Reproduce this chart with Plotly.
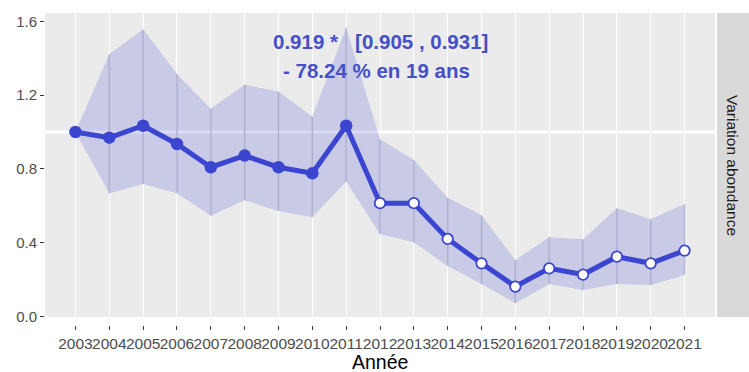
import plotly.graph_objects as go

# Annual abundance index relative to 2003, with confidence band
years = list(range(2003, 2022))
abundance = [1.000, 0.969, 1.034, 0.935, 0.809, 0.872, 0.809, 0.776, 1.034,
             0.614, 0.614, 0.420, 0.288, 0.162, 0.261, 0.227, 0.324, 0.288, 0.357]
upper = [1.000, 1.421, 1.557, 1.314, 1.126, 1.256, 1.219, 1.083, 1.567,
         0.960, 0.848, 0.644, 0.548, 0.306, 0.429, 0.418, 0.586, 0.527, 0.610]
lower = [1.000, 0.668, 0.718, 0.668, 0.546, 0.630, 0.572, 0.538, 0.731,
         0.447, 0.402, 0.274, 0.176, 0.072, 0.176, 0.144, 0.176, 0.171, 0.225]
# filled marker where the yearly difference is significant
significant = [True] * 9 + [False] * 10

trend_text = ["0.919 *&nbsp;&nbsp; [0.905 , 0.931]", "- 78.24 % en 19 ans"]
strip_label = "Variation abondance"
x_title = "Année"
y_ticks = [0.0, 0.4, 0.8, 1.2, 1.6]

BLUE = "#3B45CF"
TEXT_BLUE = "#4650C6"
PANEL = "#EBEBEB"
STRIP = "#D9D9D9"
FONT = "Liberation Sans, Arial, sans-serif"

# plot area: 13..325 px tall; panel occupies the top, axis sits 8 px lower
AREA_H = 312
GAP = 8

fig = go.Figure()

# confidence band
fig.add_trace(go.Scatter(
    x=years + years[::-1], y=upper + lower[::-1],
    fill="toself", fillcolor="rgba(60,70,210,0.2)",
    line=dict(width=0), mode="lines", hoverinfo="skip", showlegend=False))

# vertical interval segments at each year
seg_x, seg_y = [], []
for yr, lo, hi in zip(years, lower, upper):
    seg_x += [yr, yr, None]
    seg_y += [lo, hi, None]
fig.add_trace(go.Scatter(
    x=seg_x, y=seg_y, mode="lines",
    line=dict(color="rgba(90,90,130,0.35)", width=1.2),
    hoverinfo="skip", showlegend=False))

# index line
fig.add_trace(go.Scatter(
    x=years, y=abundance, mode="lines",
    line=dict(color=BLUE, width=5), showlegend=False))

# markers: filled vs open
fig.add_trace(go.Scatter(
    x=[y for y, s in zip(years, significant) if s],
    y=[a for a, s in zip(abundance, significant) if s],
    mode="markers",
    marker=dict(size=12.5, color=BLUE, line=dict(width=0)),
    showlegend=False))
fig.add_trace(go.Scatter(
    x=[y for y, s in zip(years, significant) if not s],
    y=[a for a, s in zip(abundance, significant) if not s],
    mode="markers",
    marker=dict(size=10.5, color="white", line=dict(width=1.8, color=BLUE)),
    showlegend=False))

# reference line at 1
fig.add_shape(type="line", xref="paper", x0=0, x1=1, yref="y", y0=1, y1=1,
              line=dict(color="white", width=3), layer="below")

# facet strip on the right
fig.add_shape(type="rect", xref="paper", yref="paper",
              x0=1 + 2 / 670, x1=1 + 40 / 670, y0=GAP / AREA_H, y1=1,
              fillcolor=STRIP, line=dict(width=0), layer="below")
fig.add_annotation(xref="paper", yref="paper", x=1 + 18 / 670,
                   y=(1 + GAP / AREA_H) / 2,
                   text=strip_label, textangle=90, showarrow=False,
                   font=dict(family=FONT, size=15.5, color="#1A1A1A"),
                   xanchor="center", yanchor="middle")

# trend annotation
fig.add_annotation(x=2012.0, y=1.489, xref="x", yref="y",
                   text="<b>%s</b>" % trend_text[0], showarrow=False,
                   font=dict(family=FONT, size=20.5, color=TEXT_BLUE))
fig.add_annotation(x=2011.9, y=1.336, xref="x", yref="y",
                   text="<b>%s</b>" % trend_text[1], showarrow=False,
                   font=dict(family=FONT, size=20.5, color=TEXT_BLUE))

# x axis title
fig.add_annotation(xref="paper", yref="paper", x=0.5, y=-(361.5 - 325) / AREA_H,
                   text=x_title, showarrow=False, xanchor="center", yanchor="middle",
                   font=dict(family=FONT, size=19.5, color="black"))

fig.update_layout(
    width=749, height=372,
    margin=dict(l=45, r=34, t=13, b=372 - 13 - AREA_H, autoexpand=False),
    paper_bgcolor="white", plot_bgcolor=PANEL,
    font=dict(family=FONT),
    xaxis=dict(range=[2002.1, 2021.9], tickmode="array", tickvals=years,
               ticktext=[str(y) for y in years], tickangle=0, automargin=False,
               anchor="free", position=0,
               showgrid=True, gridcolor="white", gridwidth=1.3,
               zeroline=False, showline=False,
               ticks="outside", ticklen=4, tickcolor="#333333", tickwidth=1,
               tickfont=dict(family=FONT, size=15.5, color="#4D4D4D")),
    yaxis=dict(range=[-0.003, 1.645], domain=[GAP / AREA_H, 1], automargin=False,
               tickmode="array", tickvals=y_ticks,
               ticktext=["%.1f" % v for v in y_ticks],
               showgrid=False, zeroline=False, showline=False,
               ticks="outside", ticklen=4, tickcolor="#333333", tickwidth=1,
               tickfont=dict(family=FONT, size=15, color="#4D4D4D")),
)

fig.write_html("out.html")
